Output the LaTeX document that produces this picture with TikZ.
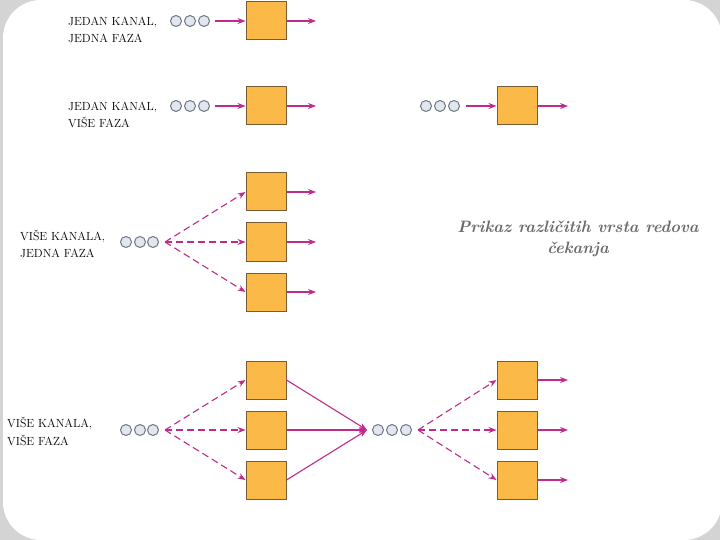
\documentclass[tikz,border=0pt]{standalone}
\usetikzlibrary{arrows.meta}
\definecolor{frame}{HTML}{D4D4D4}
\definecolor{arr}{HTML}{C02A8C}
\definecolor{boxfill}{HTML}{FBBA48}
\definecolor{boxline}{HTML}{7A5C34}
\definecolor{dotfill}{HTML}{E2E6EE}
\definecolor{dotline}{HTML}{6E7684}
\definecolor{captc}{HTML}{6A6A6A}
\tikzset{
  srv/.style={draw=boxline, fill=boxfill, line width=1pt, minimum width=40pt, minimum height=38pt, inner sep=0pt},
  dot/.style={circle, draw=dotline, fill=dotfill, line width=1pt, minimum size=11pt, inner sep=0pt},
  flow/.style={draw=arr, line width=1.1pt, -{Stealth[length=8pt,width=6pt]}},
  dflow/.style={flow, dash pattern=on 7pt off 4pt},
  lab/.style={anchor=base west, align=left, font=\fontsize{11.8}{17.5}\selectfont, inner sep=0pt},
}
\begin{document}
\begin{tikzpicture}[x=1pt,y=-1pt]
\useasboundingbox (0,0) rectangle (720,540);
\fill[frame] (0,0) rectangle (720,540);
\fill[white, rounded corners=38pt] (3,0) rectangle (722,540);
\fill[white] (40,0) rectangle (690,3);

% Row 1
\node[lab] (t1) at (68,43) {JEDAN KANAL,\\JEDNA FAZA};
\node[dot] (a1) at (176,21) {};
\node[dot] (a2) at (190,21) {};
\node[dot] (a3) at (204,21) {};
\node[srv] (b1) at (266,21) {};
\coordinate (s1) at (215,21);
\coordinate (o1) at (316,21);
\draw[flow] (s1) -- (b1.west);
\draw[flow] (b1.east) -- (o1);

% Row 2
\node[lab] (t2) at (68,128) {JEDAN KANAL,\\VIŠE FAZA};
\node[dot] (c1) at (176,106) {};
\node[dot] (c2) at (190,106) {};
\node[dot] (c3) at (204,106) {};
\node[srv] (d1) at (266,106) {};
\coordinate (s2) at (215,106);
\draw[flow] (s2) -- (d1.west);
\coordinate (o2) at (316,106);
\draw[flow] (d1.east) -- (o2);
\node[dot] (e1) at (426,106) {};
\node[dot] (e2) at (440,106) {};
\node[dot] (e3) at (454,106) {};
\node[srv] (f1) at (517,106) {};
\coordinate (s3) at (466,106);
\draw[flow] (s3) -- (f1.west);
\coordinate (o3) at (568,106);
\draw[flow] (f1.east) -- (o3);

% Row 3
\node[lab] (t3) at (20,258) {VIŠE KANALA,\\JEDNA FAZA};
\node[dot] (g1) at (126,242) {};
\node[dot] (g2) at (140,242) {};
\node[dot] (g3) at (153,242) {};
\coordinate (s4) at (165,242);
\node[srv] (h1) at (266,192) {};
\node[srv] (h2) at (266,242) {};
\node[srv] (h3) at (266,292) {};
\draw[dflow] (s4) -- (h1.west);
\draw[dflow] (s4) -- (h2.west);
\draw[dflow] (s4) -- (h3.west);
\coordinate (o4) at (316,192);
\coordinate (o5) at (316,242);
\coordinate (o6) at (316,292);
\draw[flow] (h1.east) -- (o4);
\draw[flow] (h2.east) -- (o5);
\draw[flow] (h3.east) -- (o6);

% Row 4
\node[lab] (t4) at (7,445) {VIŠE KANALA,\\VIŠE FAZA};
\node[dot] (i1) at (126,430) {};
\node[dot] (i2) at (140,430) {};
\node[dot] (i3) at (153,430) {};
\coordinate (s5) at (165,430);
\node[srv] (j1) at (266,380) {};
\node[srv] (j2) at (266,430) {};
\node[srv] (j3) at (266,480) {};
\draw[dflow] (s5) -- (j1.west);
\draw[dflow] (s5) -- (j2.west);
\draw[dflow] (s5) -- (j3.west);
\coordinate (m) at (367,430);
\draw[flow] (j1.east) -- (m);
\draw[flow] (j2.east) -- (m);
\draw[flow] (j3.east) -- (m);
\node[dot] (k1) at (378,430) {};
\node[dot] (k2) at (392,430) {};
\node[dot] (k3) at (406,430) {};
\coordinate (s6) at (418,430);
\node[srv] (l1) at (517,380) {};
\node[srv] (l2) at (517,430) {};
\node[srv] (l3) at (517,480) {};
\draw[dflow] (s6) -- (l1.west);
\draw[dflow] (s6) -- (l2.west);
\draw[dflow] (s6) -- (l3.west);
\coordinate (o7) at (568,380);
\coordinate (o8) at (568,430);
\coordinate (o9) at (568,480);
\draw[flow] (l1.east) -- (o7);
\draw[flow] (l2.east) -- (o8);
\draw[flow] (l3.east) -- (o9);

% Caption
\node[align=center, text=captc, font=\fontsize{16.5}{21}\selectfont\bfseries\itshape, inner sep=0pt, anchor=base] (cap) at (578,254) {Prikaz različitih vrsta redova\\čekanja};
\end{tikzpicture}
\end{document}
